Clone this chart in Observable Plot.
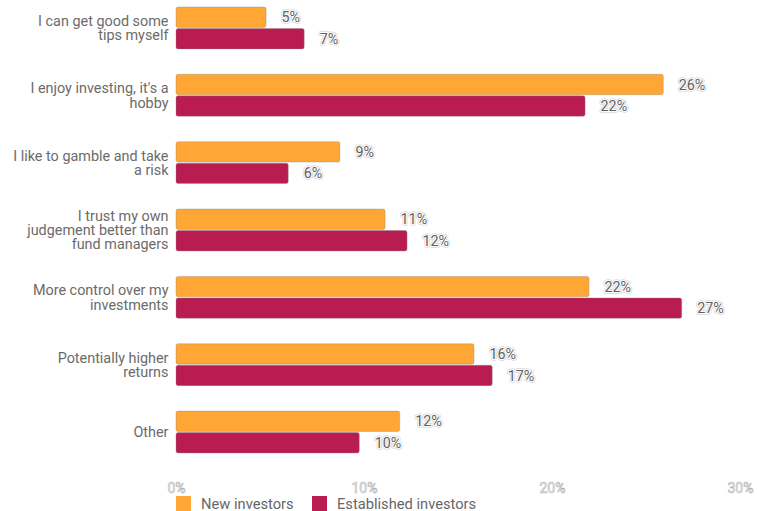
<!DOCTYPE html>
<html>
<head>
<meta charset="utf-8">
<script src="https://cdn.jsdelivr.net/npm/d3@7"></script>
<script src="https://cdn.jsdelivr.net/npm/@observablehq/plot@0.6"></script>
<style>
  html, body { margin: 0; padding: 0; background: #fff; }
  body { font-family: Roboto, "Noto Sans", sans-serif; width: 757px; height: 511px; overflow: hidden; }
  #chart svg { display: block; }
  g[aria-label="x-axis tick label"] { fill: #fff; }
  g[aria-label="x-axis tick label"] text { fill: #fff; stroke: #b0b0b0; stroke-width: 0.6px; }
  g[aria-label="fy-axis tick label"] text { fill: #6b6b6b; }
  .legend { height: 15px; font-size: 14.7px; color: #666; position: relative; }
  .legend .item { position: absolute; top: 0; height: 15px; display: flex; align-items: center; white-space: nowrap; }
  .legend .sw { width: 15px; height: 15px; display: inline-block; margin-right: 10px; flex: none; }
</style>
</head>
<body>
<div id="chart"></div>
<div class="legend" id="legend"></div>
<script>
const categories = [
  "I can get good some\ntips myself",
  "I enjoy investing, it's a\nhobby",
  "I like to gamble and take\na risk",
  "I trust my own\njudgement better than\nfund managers",
  "More control over my\ninvestments",
  "Potentially higher\nreturns",
  "Other"
];
const series = ["New investors", "Established investors"];
const newValues = [4.79, 25.92, 8.72, 11.12, 21.97, 15.85, 11.9];
const establishedValues = [6.82, 21.76, 5.97, 12.29, 26.9, 16.82, 9.75];
const newLabels = ["5%", "26%", "9%", "11%", "22%", "16%", "12%"];
const establishedLabels = ["7%", "22%", "6%", "12%", "27%", "17%", "10%"];
const xTicks = [0, 10, 20, 30];
const colors = ["#ffa634", "#b91c50"];

const data = [];
categories.forEach((c, i) => {
  data.push({category: c, series: series[0], value: newValues[i], label: newLabels[i]});
  data.push({category: c, series: series[1], value: establishedValues[i], label: establishedLabels[i]});
});

const chart = Plot.plot({
  width: 757,
  height: 496,
  marginTop: 0,
  marginLeft: 176,
  marginRight: 17,
  marginBottom: 36,
  style: {fontFamily: "Roboto, sans-serif", fontSize: "14px", background: "#fff"},
  x: {domain: [0, 30], ticks: xTicks, tickFormat: d => d + "%"},
  fy: {domain: categories, paddingInner: 0.378, paddingOuter: 0.104, round: false},
  y: {domain: series, paddingInner: 0.05, paddingOuter: 0, round: false, axis: null},
  color: {domain: series, range: colors},
  marks: [
    Plot.barX(data, {x: "value", y: "series", fy: "category", fill: "series",
      stroke: "#888", strokeOpacity: 0.45, strokeWidth: 0.8, rx: 2}),
    Plot.text(data, {x: "value", y: "series", fy: "category", text: "label",
      dx: 15, textAnchor: "start", fontSize: 14.3, fill: "none", stroke: "#dadada", strokeWidth: 3.6}),
    Plot.text(data, {x: "value", y: "series", fy: "category", text: "label",
      dx: 15, textAnchor: "start", fontSize: 14.3, fill: "#5e5e5e", stroke: "#fff", strokeWidth: 2}),
    Plot.axisX({ticks: xTicks, tickFormat: d => d + "%", tickSize: 0, tickPadding: 30, label: null, fontSize: 14, color: "#fff"}),
    Plot.axisFy({anchor: "left", tickSize: 0, tickPadding: 8, label: null, fontSize: 14.4, color: "#6b6b6b", lineHeight: 0.995})
  ]
});
document.getElementById("chart").appendChild(chart);

const legend = document.getElementById("legend");
const lefts = [176, 312];
series.forEach((s, i) => {
  const item = document.createElement("div");
  item.className = "item";
  item.style.left = lefts[i] + "px";
  const sw = document.createElement("span");
  sw.className = "sw";
  sw.style.background = colors[i];
  item.appendChild(sw);
  const t = document.createElement("span");
  t.textContent = s;
  item.appendChild(t);
  legend.appendChild(item);
});
</script>
</body>
</html>
